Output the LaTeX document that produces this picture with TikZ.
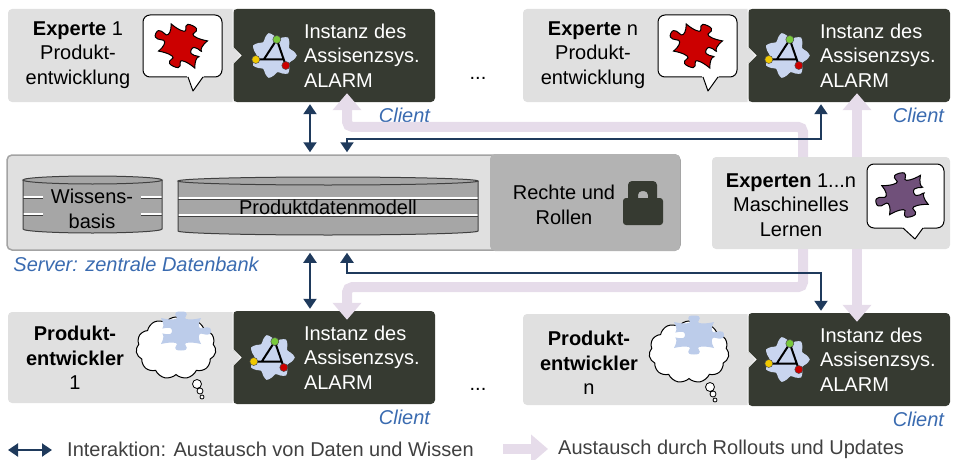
\documentclass[tikz,border=0pt]{standalone}
\usepackage{fontspec}
\setmainfont{Liberation Sans}
\usetikzlibrary{positioning}
\usetikzlibrary{arrows.meta}
\usetikzlibrary{shapes.symbols}
\usetikzlibrary{calc}

\definecolor{boxlight}{HTML}{E0E0E0}
\definecolor{boxdark}{HTML}{363A31}
\definecolor{rolegray}{HTML}{B3B3B3}
\definecolor{diskgray}{HTML}{A6A6A6}
\definecolor{serverline}{HTML}{A3A3A3}
\definecolor{linkblue}{HTML}{1F3A5C}
\definecolor{rollcol}{HTML}{E6DCEA}
\definecolor{clientblue}{HTML}{3A6BB0}
\definecolor{legendtext}{HTML}{404040}
\definecolor{piecered}{HTML}{CC0000}
\definecolor{piecepurple}{HTML}{70507A}
\definecolor{pieceblue}{HTML}{BCCCEA}
\definecolor{iconblue}{HTML}{C9D5EF}
\definecolor{dotgreen}{HTML}{78C83C}
\definecolor{dotyellow}{HTML}{F0C800}
\definecolor{dotred}{HTML}{CC0000}

\newcommand{\bodyfont}{\fontsize{20}{24.5}\selectfont}

\tikzset{
  userbox/.style={fill=boxlight, rounded corners=4pt},
  alarmbox/.style={fill=boxdark, rounded corners=4pt, minimum width=202pt, minimum height=93pt, inner sep=0pt},
  alarmtext/.style={text=white, align=left, inner sep=0pt, font=\bodyfont},
  usertext/.style={align=center, inner sep=0pt, font=\bodyfont},
  clientlabel/.style={text=clientblue, inner sep=0pt, font=\bodyfont\itshape},
  serverbox/.style={fill=boxlight, draw=serverline, line width=1.5pt, rounded corners=5pt, minimum width=673pt, minimum height=95pt},
  rolebox/.style={fill=rolegray, rounded corners=5pt, minimum width=190pt, minimum height=97pt},
  disktext/.style={fill=diskgray, align=center, inner xsep=8pt, inner ysep=0pt, font=\bodyfont},
  diskline/.style={draw=black!75, line width=1pt},
  stripe/.style={draw=black!75, line width=0.7pt, double=white, double distance=1.6pt},
  link/.style={draw=linkblue, line width=2pt, shorten <=2pt, shorten >=2pt,
    {Triangle[length=10pt,width=13pt]}-{Triangle[length=10pt,width=13pt]}},
  rollout/.style={draw=rollcol, line width=10pt, rounded corners=5pt, shorten >=-9pt,
    -{Triangle[length=17pt,width=28pt]}},
  bubble/.style={fill=white, draw=black, line width=1pt, rounded corners=7pt},
  thought/.style={cloud, cloud puffs=11, cloud puff arc=110, aspect=1.3, draw=black, fill=white,
    line width=1pt, minimum width=80pt, minimum height=62pt, inner sep=0pt},
  % jigsaw piece, unit size
  piece/.pic={
    \path[pic actions] (-1,-1)
      .. controls (-0.6,-0.85) and (-0.2,-0.85) .. (-0.2,-1.0)
      .. controls (-0.2,-1.1) and (-0.5,-1.5) .. (0,-1.5)
      .. controls (0.5,-1.5) and (0.2,-1.1) .. (0.2,-1.0)
      .. controls (0.2,-0.85) and (0.6,-0.85) .. (1,-1)
      .. controls (0.85,-0.6) and (0.85,-0.25) .. (0.95,-0.2)
      .. controls (1.0,-0.1) and (0.45,-0.5) .. (0.45,0)
      .. controls (0.45,0.5) and (1.0,0.1) .. (0.95,0.2)
      .. controls (0.85,0.25) and (0.85,0.6) .. (1,1)
      .. controls (0.6,0.85) and (0.2,0.85) .. (0.2,1.0)
      .. controls (0.2,1.1) and (0.5,1.5) .. (0,1.5)
      .. controls (-0.5,1.5) and (-0.2,1.1) .. (-0.2,1.0)
      .. controls (-0.2,0.85) and (-0.6,0.85) .. (-1,1)
      .. controls (-0.85,0.6) and (-0.85,0.2) .. (-1.0,0.2)
      .. controls (-1.1,0.2) and (-1.5,0.5) .. (-1.5,0)
      .. controls (-1.5,-0.5) and (-1.1,-0.2) .. (-1.0,-0.2)
      .. controls (-0.85,-0.2) and (-0.85,-0.6) .. (-1,-1) -- cycle;
  },
  % ALARM logo
  alarmicon/.pic={
    \fill[iconblue] plot[smooth cycle, samples=28, domain=0:347.14, variable=\t] (\t:{20+3*cos(7*\t)});
    \draw[black, line width=2pt, line cap=round] (3,-16) -- (12,10) (3,-16) -- (-10,4) (-18,4) -- (9,4);
    \filldraw[draw=black!70, fill=dotgreen, line width=0.5pt] (3,-16) circle (4);
    \filldraw[draw=black!70, fill=dotyellow, line width=0.5pt] (-18,4) circle (4);
    \filldraw[draw=black!70, fill=dotred, line width=0.5pt] (12,10) circle (4);
  },
}

\begin{document}
\begin{tikzpicture}[x=1pt, y=-1pt]
\useasboundingbox (0,0) rectangle (953,460);

%% clients: expert side + assistant instance
\fill[boxlight, rounded corners=4pt] (8,9) rectangle (240,102);
\fill[boxlight, rounded corners=4pt] (523,9) rectangle (755,102);
\fill[boxlight, rounded corners=4pt] (8,312) rectangle (240,403);
\fill[boxlight, rounded corners=4pt] (523,314) rectangle (755,405);

\node[alarmbox] (cli1) at (334,55.5) {};
\node[alarmbox] (cli2) at (849,55.5) {};
\node[alarmbox] (cli3) at (334,357.5) {};
\node[alarmbox] (cli4) at (849,359.5) {};

\foreach \xa/\ym in {233/55.5, 748/55.5, 233/357.5, 748/359.5} {
  \fill[boxlight] (\xa-1,\ym-8) -- (\xa+8,\ym) -- (\xa-1,\ym+8) -- cycle;
  \draw[white, line width=1pt] (\xa,\ym-47) -- (\xa,\ym-8) -- (\xa+8,\ym) -- (\xa,\ym+8) -- (\xa,\ym+47);
}

\node[alarmtext, right=71pt of cli1.west] (a1) {Instanz des\\Assisenzsys.\\ALARM};
\node[alarmtext, right=72pt of cli2.west] (a2) {Instanz des\\Assisenzsys.\\ALARM};
\node[alarmtext, right=71pt of cli3.west] (a3) {Instanz des\\Assisenzsys.\\ALARM};
\node[alarmtext, right=72pt of cli4.west] (a4) {Instanz des\\Assisenzsys.\\ALARM};

\pic at ($(cli1.west)+(41,0)$) {alarmicon};
\pic at ($(cli2.west)+(39,0)$) {alarmicon};
\pic at ($(cli3.west)+(39,0)$) {alarmicon};
\pic at ($(cli4.west)+(39,0)$) {alarmicon};

\node[usertext] (u1) at (78,55) {\textbf{Experte} 1\\Produkt-\\entwicklung};
\node[usertext] (u2) at (593,55) {\textbf{Experte} n\\Produkt-\\entwicklung};
\node[usertext] (u3) at (75,358) {\textbf{Produkt-}\\\textbf{entwickler}\\1};
\node[usertext] (u4) at (589,363) {\textbf{Produkt-}\\\textbf{entwickler}\\n};

% speech bubbles with pieces
\draw[bubble] (188,77) -- (143,77) -- (143,15) -- (222,15) -- (222,77) -- (203,77);
\fill[white] (187,76) -- (193,91) -- (204,76) -- cycle;
\draw[black, line width=1pt, line join=round] (188,77) -- (193,91) -- (203,77);
\pic[fill=piecered, draw=black, line width=1pt, rotate=-25, xscale=20, yscale=15] at (183,46) {piece};

\draw[bubble] (703,77) -- (658,77) -- (658,15) -- (737,15) -- (737,77) -- (718,77);
\fill[white] (702,76) -- (708,91) -- (719,76) -- cycle;
\draw[black, line width=1pt, line join=round] (703,77) -- (708,91) -- (718,77);
\pic[fill=piecered, draw=black, line width=1pt, rotate=-25, xscale=20, yscale=15] at (698,46) {piece};

% thought clouds
\node[thought] (c1) at (176,348) {};
\pic[fill=pieceblue, rotate=180, xscale=20, yscale=13] at (181,331) {piece};
\filldraw[fill=white, draw=black, line width=0.8pt] (197,384) circle (4.5) (200,391) circle (3) (202,397) circle (2);

\node[thought] (c2) at (689,352) {};
\pic[fill=pieceblue, rotate=180, xscale=20, yscale=13] at (694,335) {piece};
\filldraw[fill=white, draw=black, line width=0.8pt] (710,387) circle (4.5) (713,394) circle (3) (715,400) circle (2);

\node[anchor=base, inner sep=0pt, font=\bodyfont] (dots1) at (478,80) {...};
\node[anchor=base, inner sep=0pt, font=\bodyfont] (dots2) at (478,390) {...};

%% server
\node[serverbox] (srv) at (343.5,202.5) {};
\node[rolebox] (roles) at (585,202.5) {};
\node[font=\bodyfont, align=center, inner sep=0pt] (rtxt) at (564,205) {Rechte und\\Rollen};
\fill[boxdark, rounded corners=3pt] (623,198) rectangle (663,225);
\fill[boxdark, rounded corners=4pt, even odd rule] (628,181) rectangle (657,202) (638,191) rectangle (648,202);

% databases
\foreach \xa/\xb/\ya/\yb in {23/162/180/229, 178/478/181/231} {
  \fill[diskgray] (\xa,\ya) -- (\xa,\yb) arc[start angle=180, end angle=0, x radius={(\xb-\xa)/2}, y radius=4]
    -- (\xb,\ya) arc[start angle=0, end angle=-180, x radius={(\xb-\xa)/2}, y radius=4] -- cycle;
  \draw[stripe] (\xa,\ya+17) -- (\xb,\ya+17);
  \draw[stripe] (\xa,\ya+34) -- (\xb,\ya+34);
}
\node[disktext] (kb) at (92,209) {Wissens-\\basis};
\node[disktext] (pdm) at (328,207) {Produktdatenmodell};
\foreach \xa/\xb/\ya/\yb in {23/162/180/229, 178/478/181/231} {
  \draw[diskline] ({(\xa+\xb)/2},\ya) ellipse[x radius={(\xb-\xa)/2}, y radius=4];
  \draw[diskline] (\xa,\ya) -- (\xa,\yb) arc[start angle=180, end angle=0, x radius={(\xb-\xa)/2}, y radius=4] -- (\xb,\ya);
}

\node[clientlabel, below right=6pt and 7pt of srv.south west] (srvlabel) {Server: zentrale Datenbank};

%% machine learning experts
\node[userbox, minimum width=238pt, minimum height=92pt, inner sep=0pt] (ml) at (831,203) {};
\node[usertext] (u5) at (791,205) {\textbf{Experten} 1...n\\Maschinelles\\Lernen};
\draw[bubble] (903,228) -- (867,228) -- (867,164) -- (944,164) -- (944,228) -- (923,228);
\fill[white] (902,227) -- (915,239) -- (924,227) -- cycle;
\draw[black, line width=1pt, line join=round] (903,228) -- (915,239) -- (923,228);
\pic[fill=piecepurple, draw=black, line width=1pt, rotate=15, xscale=20, yscale=15] at (905,195) {piece};

%% client labels
\node[clientlabel, below left=6pt and 5pt of cli1.south east] (cl1) {Client};
\node[clientlabel, below left=6pt and 6pt of cli2.south east] (cl2) {Client};
\node[clientlabel, below left=6pt and 5pt of cli3.south east] (cl3) {Client};
\node[clientlabel, below left=6pt and 6pt of cli4.south east] (cl4) {Client};

%% connectors
\coordinate (laneA) at (310,0);
\coordinate (laneB) at (347,0);
\coordinate (laneC) at (821,0);
\coordinate (laneP) at (803,0);
\coordinate (laneQ) at (857,0);

\draw[rollout] (ml.north -| laneP) -- ++(0,-30) -| (cli1.south -| laneB);
\draw[rollout] (ml.north -| laneQ) -- (cli2.south -| laneQ);
\draw[rollout] (ml.south -| laneP) -- ++(0,38) -| (cli3.north -| laneB);
\draw[rollout] (ml.south -| laneQ) -- (cli4.north -| laneQ);

\draw[link] (cli1.south -| laneA) -- (srv.north -| laneA);
\draw[link] (cli2.south -| laneC) -- ++(0,37) -| (srv.north -| laneB);
\draw[link] (srv.south -| laneA) -- (cli3.north -| laneA);
\draw[link] (srv.south -| laneB) -- ++(0,22) -| (cli4.north -| laneC);

%% legend
\coordinate (legA) at (6,450);
\coordinate (legB) at (54,450);
\draw[link] (legA) -- (legB);
\node[anchor=west, inner sep=0pt, text=legendtext, font=\bodyfont] (leg1) at (67,449) {Interaktion: Austausch von Daten und Wissen};
\coordinate (legC) at (503,449);
\coordinate (legD) at (539,449);
\draw[rollout] (legC) -- (legD);
\node[anchor=west, inner sep=0pt, text=legendtext, font=\bodyfont] (leg2) at (558,449) {Austausch durch Rollouts und Updates};

\end{tikzpicture}
\end{document}
